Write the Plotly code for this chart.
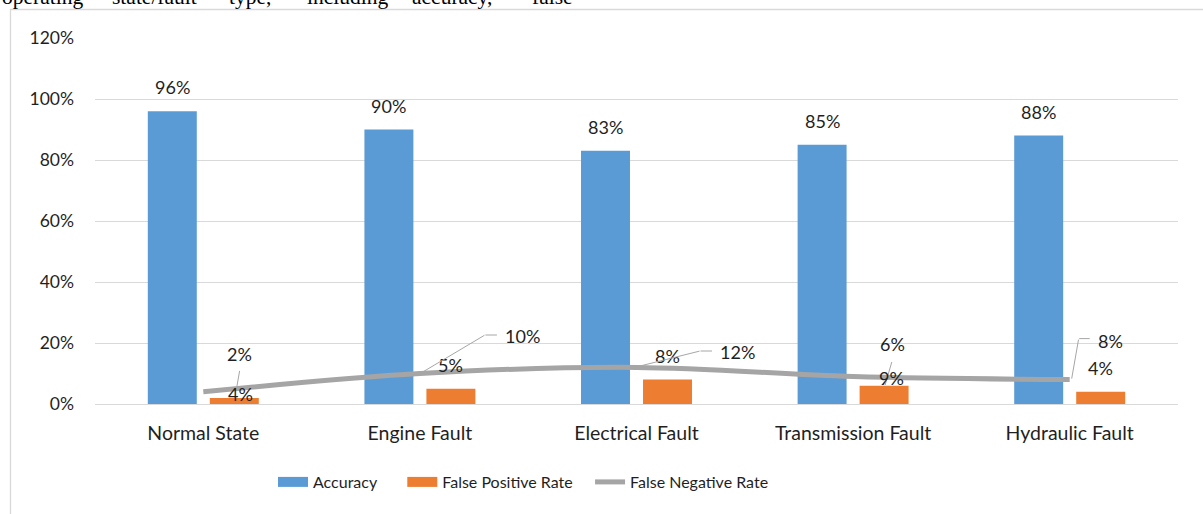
import plotly.graph_objects as go

# ---- data -------------------------------------------------------------
categories = ["Normal State", "Engine Fault", "Electrical Fault",
              "Transmission Fault", "Hydraulic Fault"]
accuracy = [0.96, 0.90, 0.83, 0.85, 0.88]
false_positive = [0.02, 0.05, 0.08, 0.06, 0.04]
false_negative = [0.04, 0.10, 0.12, 0.09, 0.08]
y_ticks = [0, 0.2, 0.4, 0.6, 0.8, 1.0, 1.2]
heading_words = ["operating", "state/fault", "type,", "including",
                 "accuracy,", "false"]

# ---- page geometry (pixels) ------------------------------------------
W, H = 1203, 514
ML, MR, MT, MB = 95, 25, 38, 110
PW, PH = W - ML - MR, H - MT - MB


def paper_x(px):
    return (px - ML) / PW


def paper_y(py):
    return (H - MB - py) / PH


BLUE, ORANGE, GREY = "#5B9BD5", "#ED7D31", "#A5A5A5"
LEADER = "#A6A6A6"
TXT = "#1F1F1F"
FONT = "Lato"
BAR_HALF = 31  # pixel distance from category centre to each bar centre

# label placement: (dx, dy) in pixels from the mark, optional leader
# leader for line labels: (elbow_dx, elbow_dy, end_dx)
fnr_place = [
    ((37, 2), None),
    ((103, -37.5), (65, -38.5, 77)),
    ((101, -15.4), (63.5, -16.4, 75.5)),
    ((38, 1.5), None),
    ((41, -38.6), (9, -41, 20)),
]
# leader for bar labels: (near_dx, near_dy, far_dx, far_dy)
fpr_place = [
    ((5.5, -44), (2.5, -11, 5.5, -28)),
    ((0, -24), None),
    ((0, -24), None),
    ((8, -41.7), (1, -0.7, 8, -24.7)),
    ((0, -24), None),
]

fig = go.Figure()
fig.add_trace(go.Bar(name="Accuracy", x=categories, y=accuracy,
                     legendgroup="acc", showlegend=False,
                     marker=dict(color=BLUE, line=dict(width=0)),
                     hoverinfo="skip"))
fig.add_trace(go.Bar(name="False Positive Rate", x=categories,
                     y=false_positive, legendgroup="fpr", showlegend=False,
                     marker=dict(color=ORANGE, line=dict(width=0)),
                     hoverinfo="skip"))
fig.add_trace(go.Scatter(name="False Negative Rate", x=categories,
                         y=false_negative, mode="lines",
                         legendgroup="fnr", showlegend=False,
                         line=dict(color=GREY, width=5, shape="spline",
                                   smoothing=1.0),
                         hoverinfo="skip"))

# legend keys: wide flat swatches for the bar series, thick line for the rate
# (trailing no-break spaces widen the gap to the next key)
NB = "\u00a0"
for name, pad, color, width, grp in [
        ("Accuracy", 5, BLUE, 11, "acc"),
        ("False Positive Rate", 3, ORANGE, 11, "fpr"),
        ("False Negative Rate", 0, GREY, 5, "fnr")]:
    fig.add_trace(go.Scatter(name=name + NB * pad, x=[None], y=[None],
                             mode="lines", legendgroup=grp, showlegend=True,
                             line=dict(color=color, width=width),
                             hoverinfo="skip"))

ann = []
label_font = dict(family=FONT, size=18, color=TXT)


def text_label(cat, val, dx, dy):
    ann.append(dict(x=cat, y=val, xref="x", yref="y", text=f"{val:.0%}",
                    showarrow=False, xshift=dx, yshift=-dy,
                    xanchor="center", yanchor="middle", font=label_font))


def segment(cat, val, hx, hy, tx, ty):
    # line from (hx, hy) to (tx, ty), pixel offsets from the data point
    ann.append(dict(x=cat, y=val, xref="x", yref="y", text=" ",
                    font=dict(size=1), showarrow=True, arrowhead=0,
                    arrowwidth=1, arrowcolor=LEADER, standoff=0,
                    startstandoff=0, borderpad=0,
                    xshift=hx, yshift=-hy, ax=tx - hx, ay=ty - hy))


for cat, v in zip(categories, accuracy):
    text_label(cat, v, -BAR_HALF, -24)

for cat, v, (pos, lead) in zip(categories, false_positive, fpr_place):
    text_label(cat, v, BAR_HALF + pos[0], pos[1])
    if lead:
        segment(cat, v, BAR_HALF + lead[0], lead[1],
                BAR_HALF + lead[2], lead[3])

for cat, v, (pos, lead) in zip(categories, false_negative, fnr_place):
    text_label(cat, v, pos[0], pos[1])
    if lead:
        ex, ey, endx = lead
        segment(cat, v, 2, -1, ex, ey)
        segment(cat, v, endx, ey, ex, ey)

# running text of the surrounding paragraph, cut by the page top
word_x = [0, 110, 227, 305, 410, 530]
for wx, word in zip(word_x, heading_words):
    ann.append(dict(x=paper_x(wx), y=paper_y(-3), xref="paper", yref="paper",
                    text=word, showarrow=False, xanchor="left",
                    yanchor="middle",
                    font=dict(family="Liberation Serif", size=21.5,
                              color="#000000")))

fig.update_layout(
    width=W, height=H,
    margin=dict(l=ML, r=MR, t=MT, b=MB, pad=0),
    paper_bgcolor="white", plot_bgcolor="white",
    barmode="group", bargap=0.4275, bargroupgap=0.21,
    font=dict(family=FONT, color=TXT),
    showlegend=True,
    legend=dict(orientation="h", x=paper_x(273), xanchor="left",
                y=paper_y(482), yanchor="middle",
                font=dict(family=FONT, size=16, color=TXT),
                itemwidth=30, bgcolor="rgba(0,0,0,0)"),
    xaxis=dict(type="category", showgrid=False, showline=True,
               linecolor="#D9D9D9", linewidth=1.3, ticks="",
               tickfont=dict(family=FONT, size=19.5, color=TXT),
               ticklabelstandoff=11, fixedrange=True),
    yaxis=dict(range=[0, 1.2], tickvals=y_ticks, tickformat=".0%",
               showgrid=True, gridcolor="#D9D9D9", gridwidth=1.3,
               zeroline=False, showline=False, ticks="",
               tickfont=dict(family=FONT, size=17.5, color=TXT),
               ticklabelstandoff=20, fixedrange=True),
    annotations=ann,
    shapes=[dict(type="rect", xref="paper", yref="paper",
                 x0=paper_x(10.5), x1=paper_x(1260),
                 y0=paper_y(600), y1=paper_y(9.5),
                 line=dict(color="#D9D9D9", width=1.3),
                 fillcolor="rgba(0,0,0,0)", layer="below")],
)

fig.write_html("out.html")
